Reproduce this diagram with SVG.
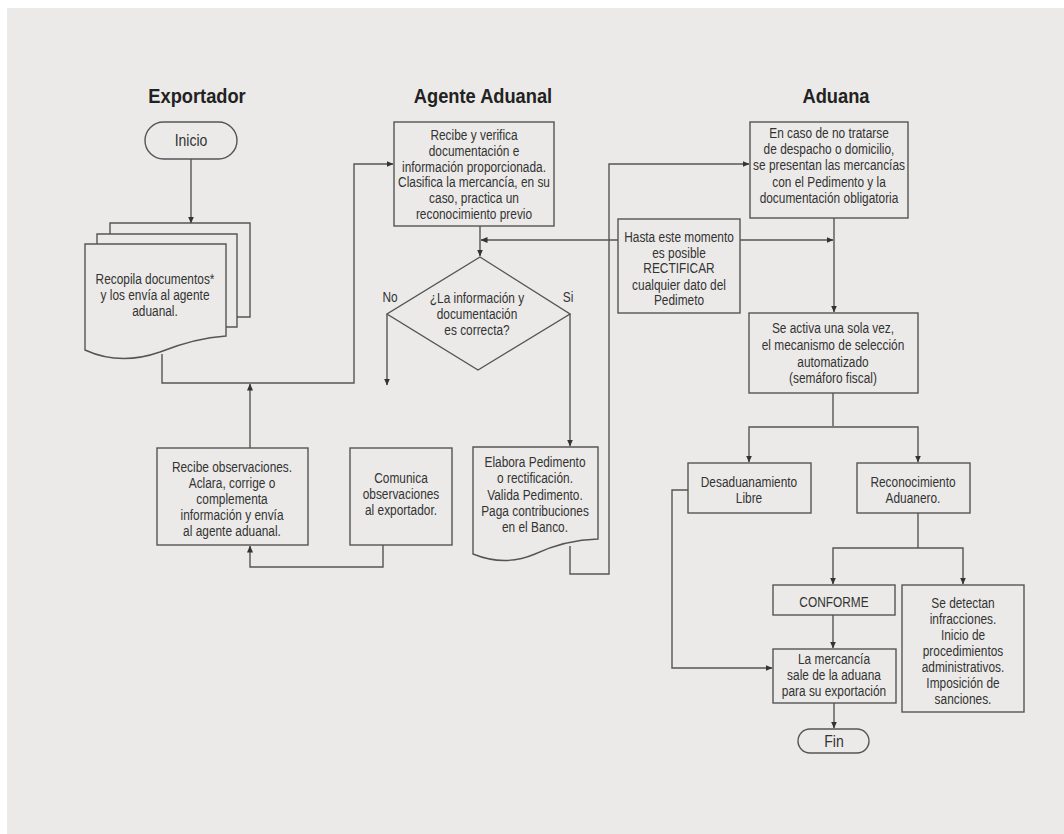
<svg xmlns="http://www.w3.org/2000/svg" width="1064" height="834" viewBox="0 0 1064 834">
<defs>
<style>
.bg{fill:#ebeae8}
.box{fill:#ebeae8;stroke:#555;stroke-width:1.4}
.ln{fill:none;stroke:#555;stroke-width:1.4}
.t{font-family:"Liberation Sans",Arial,sans-serif;font-size:14.5px;fill:#333;text-anchor:middle}
.h{font-family:"Liberation Sans",Arial,sans-serif;font-size:21px;font-weight:bold;fill:#222;text-anchor:middle}
.p{font-size:16.5px}
</style>
<marker id="a" markerWidth="7" markerHeight="6" refX="6.5" refY="3" orient="auto" markerUnits="userSpaceOnUse">
<path d="M0,0 L7,3 L0,6 Z" fill="#333"/>
</marker>
</defs>
<rect x="0" y="0" width="1064" height="834" fill="#ffffff"/>
<rect x="7" y="8" width="1057" height="826" class="bg"/>

<g id="titles">
<text class="h" transform="translate(197 0) scale(0.87 1)" x="0" y="103">Exportador</text>
<text class="h" transform="translate(483 0) scale(0.87 1)" x="0" y="103">Agente Aduanal</text>
<text class="h" transform="translate(836 0) scale(0.87 1)" x="0" y="103">Aduana</text>
</g>

<g id="connectors">
<path class="ln" d="M191,159 V223" marker-end="url(#a)"/>
<path class="ln" d="M162,354 V383 H354 V164 H393" marker-end="url(#a)"/>
<path class="ln" d="M480,226 V256" marker-end="url(#a)"/>
<path class="ln" d="M618,240 H481" marker-end="url(#a)"/>
<path class="ln" d="M740,240 H833" marker-end="url(#a)"/>
<path class="ln" d="M387,314 V385" marker-end="url(#a)"/>
<path class="ln" d="M570,314 V446" marker-end="url(#a)"/>
<path class="ln" d="M570,546 V574 H609 V164 H749" marker-end="url(#a)"/>
<path class="ln" d="M250,448 V384" marker-end="url(#a)"/>
<path class="ln" d="M383,545 V567 H250 V546" marker-end="url(#a)"/>
<path class="ln" d="M834,218 V312" marker-end="url(#a)"/>
<path class="ln" d="M833,393 V426"/>
<path class="ln" d="M833,427 H749 V462" marker-end="url(#a)"/>
<path class="ln" d="M833,427 H918 V462" marker-end="url(#a)"/>
<path class="ln" d="M918,513 V548"/>
<path class="ln" d="M918,548 H833 V584" marker-end="url(#a)"/>
<path class="ln" d="M918,548 H963 V584" marker-end="url(#a)"/>
<path class="ln" d="M833,615 V648" marker-end="url(#a)"/>
<path class="ln" d="M688,490 H672 V668 H772" marker-end="url(#a)"/>
<path class="ln" d="M834,703 V728" marker-end="url(#a)"/>
</g>

<g id="inicio">
<rect class="box" x="145" y="122" width="92" height="37" rx="18.5"/>
<g transform="translate(191 0) scale(0.85 1)"><text class="t p" x="0" y="146">Inicio</text></g>
</g>

<g id="recopila">
<polyline class="ln" points="110,234 110,223 250,223 250,317 237,317"/>
<polyline class="ln" points="97,244 97,234 237,234 237,327 226,327"/>
<path class="box" d="M85,244 H226 V336 Q195,338 160,352 Q120,366 85,350 Z"/>
<g transform="translate(155 0) scale(0.82 1)">
<text class="t" x="0" y="284">Recopila documentos*</text>
<text class="t" x="0" y="300">y los envía al agente</text>
<text class="t" x="0" y="316">aduanal.</text>
</g>
</g>

<g id="recibe-verifica">
<rect class="box" x="394" y="122" width="160" height="104"/>
<g transform="translate(474 0) scale(0.82 1)">
<text class="t" x="0" y="140">Recibe y verifica</text>
<text class="t" x="0" y="156">documentación e</text>
<text class="t" x="0" y="172">información proporcionada.</text>
<text class="t" x="0" y="187">Clasifica la mercancía, en su</text>
<text class="t" x="0" y="203">caso, practica un</text>
<text class="t" x="0" y="219">reconocimiento previo</text>
</g>
</g>

<g id="decision">
<polygon class="box" points="480,257 570,314 478,370 387,314"/>
<g transform="translate(477 0) scale(0.82 1)">
<text class="t" x="0" y="303">¿La información y</text>
<text class="t" x="0" y="319">documentación</text>
<text class="t" x="0" y="335">es correcta?</text>
</g>
<g transform="translate(390 0) scale(0.82 1)"><text class="t" x="0" y="302">No</text></g>
<g transform="translate(568 0) scale(0.82 1)"><text class="t" x="0" y="302">Si</text></g>
</g>

<g id="hasta">
<rect class="box" x="618" y="219" width="122" height="94"/>
<g transform="translate(679 0) scale(0.82 1)">
<text class="t" x="0" y="242">Hasta este momento</text>
<text class="t" x="0" y="258">es posible</text>
<text class="t" x="0" y="273">RECTIFICAR</text>
<text class="t" x="0" y="290">cualquier dato del</text>
<text class="t" x="0" y="305">Pedimeto</text>
</g>
</g>

<g id="recibe-observaciones">
<rect class="box" x="157" y="448" width="151" height="97"/>
<g transform="translate(232 0) scale(0.82 1)">
<text class="t" x="0" y="472">Recibe observaciones.</text>
<text class="t" x="0" y="488">Aclara, corrige o</text>
<text class="t" x="0" y="504">complementa</text>
<text class="t" x="0" y="520">información y envía</text>
<text class="t" x="0" y="536">al agente aduanal.</text>
</g>
</g>

<g id="comunica">
<rect class="box" x="350" y="448" width="102" height="97"/>
<g transform="translate(401 0) scale(0.82 1)">
<text class="t" x="0" y="483">Comunica</text>
<text class="t" x="0" y="499">observaciones</text>
<text class="t" x="0" y="515">al exportador.</text>
</g>
</g>

<g id="elabora">
<path class="box" d="M473,447 H598 V539 Q565,540 535,554 Q505,567 473,554 Z"/>
<g transform="translate(535 0) scale(0.82 1)">
<text class="t" x="0" y="467">Elabora Pedimento</text>
<text class="t" x="0" y="483">o rectificación.</text>
<text class="t" x="0" y="500">Valida Pedimento.</text>
<text class="t" x="0" y="516">Paga contribuciones</text>
<text class="t" x="0" y="532">en el Banco.</text>
</g>
</g>

<g id="presentan">
<rect class="box" x="750" y="122" width="158" height="96"/>
<g transform="translate(829 0) scale(0.82 1)">
<text class="t" x="0" y="138">En caso de no tratarse</text>
<text class="t" x="0" y="154">de despacho o domicilio,</text>
<text class="t" x="0" y="170">se presentan las mercancías</text>
<text class="t" x="0" y="187">con el Pedimento y la</text>
<text class="t" x="0" y="203">documentación obligatoria</text>
</g>
</g>

<g id="semaforo">
<rect class="box" x="749" y="313" width="169" height="80"/>
<g transform="translate(833 0) scale(0.82 1)">
<text class="t" x="0" y="333">Se activa una sola vez,</text>
<text class="t" x="0" y="350">el mecanismo de selección</text>
<text class="t" x="0" y="367">automatizado</text>
<text class="t" x="0" y="383">(semáforo fiscal)</text>
</g>
</g>

<g id="desaduanamiento">
<rect class="box" x="688" y="463" width="123" height="50"/>
<g transform="translate(749 0) scale(0.82 1)">
<text class="t" x="0" y="487">Desaduanamiento</text>
<text class="t" x="0" y="503">Libre</text>
</g>
</g>

<g id="reconocimiento">
<rect class="box" x="857" y="463" width="113" height="50"/>
<g transform="translate(913 0) scale(0.82 1)">
<text class="t" x="0" y="487">Reconocimiento</text>
<text class="t" x="0" y="503">Aduanero.</text>
</g>
</g>

<g id="conforme">
<rect class="box" x="773" y="585" width="122" height="30"/>
<g transform="translate(834 0) scale(0.82 1)"><text class="t" x="0" y="607">CONFORME</text></g>
</g>

<g id="infracciones">
<rect class="box" x="902" y="585" width="122" height="127"/>
<g transform="translate(963 0) scale(0.82 1)">
<text class="t" x="0" y="608">Se detectan</text>
<text class="t" x="0" y="624">infracciones.</text>
<text class="t" x="0" y="640">Inicio de</text>
<text class="t" x="0" y="656">procedimientos</text>
<text class="t" x="0" y="672">administrativos.</text>
<text class="t" x="0" y="688">Imposición de</text>
<text class="t" x="0" y="704">sanciones.</text>
</g>
</g>

<g id="sale">
<rect class="box" x="773" y="649" width="123" height="54"/>
<g transform="translate(834 0) scale(0.82 1)">
<text class="t" x="0" y="664">La mercancía</text>
<text class="t" x="0" y="680">sale de la aduana</text>
<text class="t" x="0" y="696">para su exportación</text>
</g>
</g>

<g id="fin">
<rect class="box" x="798" y="729" width="71" height="24" rx="12"/>
<g transform="translate(834 0) scale(0.85 1)"><text class="t p" x="0" y="747">Fin</text></g>
</g>
</svg>
